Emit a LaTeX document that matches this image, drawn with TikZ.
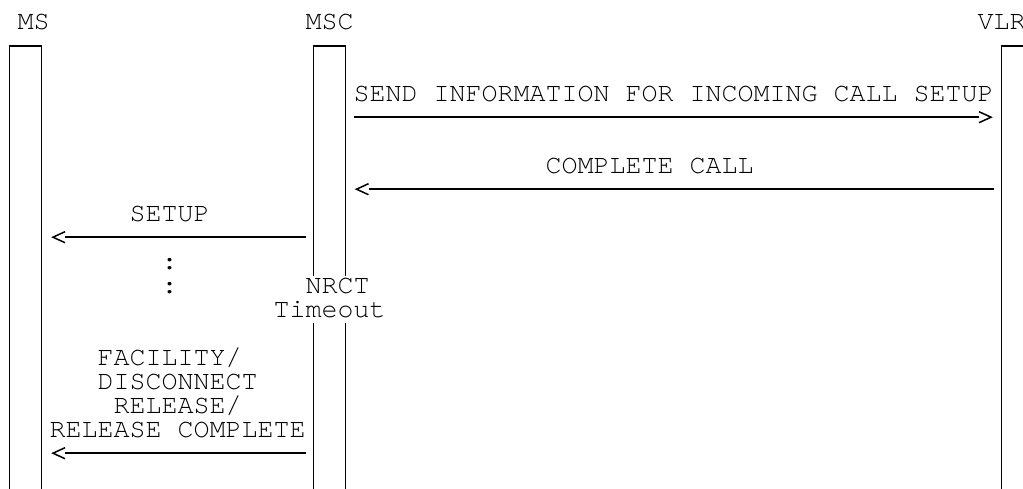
\documentclass[tikz,border=0pt]{standalone}
\usepackage{fontspec}
\newfontfamily\monofont{TeX Gyre Cursor}
\usetikzlibrary{arrows.meta}
\pgfdeclarearrow{
  name = Chev,
  parameters = {\the\pgfarrowlength,\the\pgfarrowwidth},
  setup code = {
    \pgfarrowssettipend{0pt}
    \pgfarrowssetlineend{-\pgfarrowlength}
    \pgfarrowssetbackend{-\pgfarrowlength}
    \pgfarrowssetvisualbackend{-\pgfarrowlength}
    \pgfarrowshullpoint{0pt}{0pt}
    \pgfarrowsupperhullpoint{-\pgfarrowlength}{.5\pgfarrowwidth}
    \pgfarrowssavethe\pgfarrowlength
    \pgfarrowssavethe\pgfarrowwidth
  },
  drawing code = {
    \pgfsetdash{}{0pt}
    \pgfpathmoveto{\pgfpoint{-\pgfarrowlength}{.5\pgfarrowwidth}}
    \pgfpathlineto{\pgfpointorigin}
    \pgfpathlineto{\pgfpoint{-\pgfarrowlength}{-.5\pgfarrowwidth}}
    \pgfusepathqstroke
  },
  defaults = {length = 12pt, width = 11pt}
}
% stacked lines, baseline = first line, pitch 24pt
\newcommand\stacklines[1]{\vtop{\baselineskip=24pt\lineskiplimit=-1000pt\lineskip=0pt #1}}
\newcommand\asciiline[2]{\hbox{\hspace*{#1pt}#2}}
\begin{document}
\begin{tikzpicture}[x=1pt,y=-1pt,
  txt/.style={anchor=base west,inner sep=0pt,outer sep=0pt,text=black,
    font=\monofont\fontsize{26.67}{24}\selectfont},
  life/.style={draw=black,line width=1.6pt,line join=miter},
  msg/.style={draw=black,line width=1.5pt,-{Chev[length=12pt,width=11pt]}}
]
\useasboundingbox (0,0) rectangle (1023,488);
\fill[white] (0,0) rectangle (1023,488);
\clip (0,0) rectangle (1023,488);

% entity labels (row 0)
\node[txt] (ms)  at (17.5,29.2)  {MS};
\node[txt] (msc) at (305.5,29.2) {MSC};
\node[txt] (vlr) at (977.5,29.2) {VLR};

% lifeline boxes
\coordinate (msA)  at (9.5,490);
\coordinate (msB)  at (41.5,490);
\draw[life] (msA) -- (9.5,45.8) -- (41.5,45.8) -- (msB);

\coordinate (mscA) at (313.5,276);
\coordinate (mscB) at (345.5,276);
\coordinate (mscC) at (313.5,323);
\coordinate (mscD) at (345.5,323);
\draw[life] (mscA) -- (313.5,45.8) -- (345.5,45.8) -- (mscB);
\draw[life] (mscC) -- (313.5,490);
\draw[life] (mscD) -- (345.5,490);

\coordinate (vlrA) at (1001.5,490);
\coordinate (vlrB) at (1033.5,490);
\draw[life] (vlrA) -- (1001.5,45.8) -- (1033.5,45.8) -- (vlrB);

% messages
\node[txt] (m1) at (353.5,101.2) {SEND INFORMATION FOR INCOMING CALL SETUP};
\coordinate (m1s) at (353.5,117.2);
\coordinate (m1e) at (991,117.2);
\draw[msg] (m1s) -- (m1e);

\node[txt] (m2) at (545.5,173.2) {COMPLETE CALL};
\coordinate (m2s) at (993.5,189.2);
\coordinate (m2e) at (356.5,189.2);
\draw[msg] (m2s) -- (m2e);

\node[txt] (m3) at (129.5,221.2) {SETUP};
\coordinate (m3s) at (305.5,237.2);
\coordinate (m3e) at (53,237.2);
\draw[msg] (m3s) -- (m3e);

\node[txt] (dots) at (161.5,269.2) {\stacklines{\asciiline{0}{:}\asciiline{0}{:}}};

\node[txt] (tmo) at (273.5,293.2) {\stacklines{\asciiline{32}{NRCT}\asciiline{0}{Timeout}}};

\node[txt] (fac) at (49.5,365.2) {\stacklines{%
  \asciiline{48}{FACILITY/}%
  \asciiline{48}{DISCONNECT}%
  \asciiline{64}{RELEASE/}%
  \asciiline{0}{RELEASE COMPLETE}}};
\coordinate (m4s) at (305.5,453.2);
\coordinate (m4e) at (53,453.2);
\draw[msg] (m4s) -- (m4e);
\end{tikzpicture}
\end{document}
